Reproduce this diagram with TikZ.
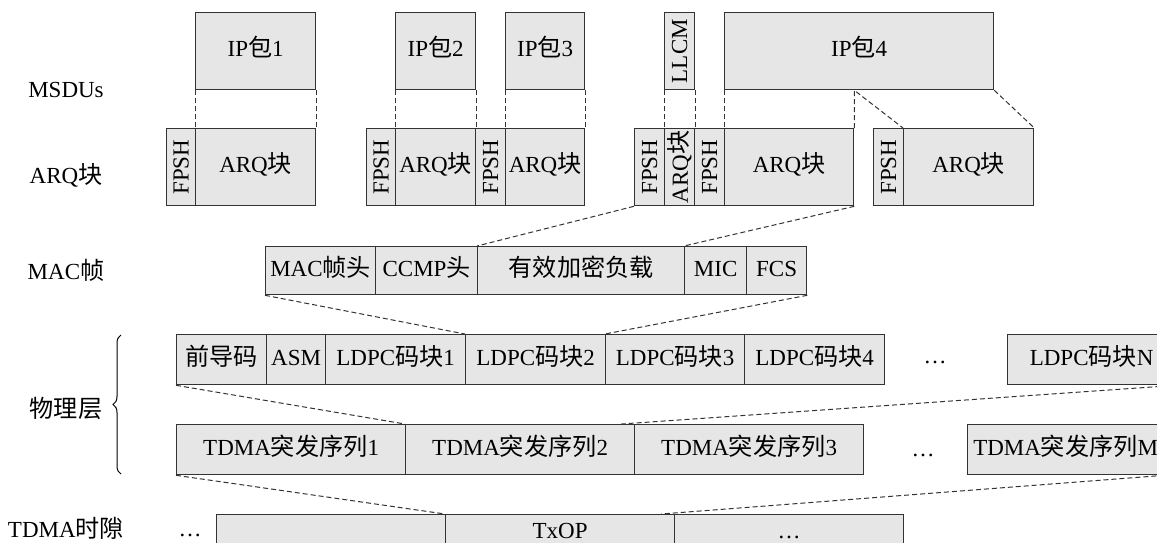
\documentclass[tikz,border=0pt]{standalone}
\usepackage{fontspec}
\setmainfont{Liberation Serif}
\newfontfamily\cjkfont[Scale=1.05]{Noto Sans CJK SC}
\newcommand{\zh}[1]{{\cjkfont #1}}
\usepackage{graphicx}
\usetikzlibrary{decorations.pathreplacing}
\definecolor{cellgray}{HTML}{E6E6E6}
\definecolor{edge}{HTML}{333333}
\tikzset{
  box/.style={draw=edge, line width=1.3pt, fill=cellgray, inner sep=0pt, anchor=north west, font=\fontsize{23}{27}\selectfont},
  cell/.style={box, text height=16pt, text depth=5pt},
  vcell/.style={box},
  rowlabel/.style={font=\fontsize{23}{27}\selectfont},
  guide/.style={draw=edge, line width=1pt, dash pattern=on 5pt off 3pt}
}

\begin{document}
\begin{tikzpicture}[x=1pt, y=-1pt]
  \useasboundingbox (0,0) rectangle (1157,542);
  \clip (0,0) rectangle (1157,542);

  \node[rowlabel] (lmsdu) at (66,90) {MSDUs};
  \node[rowlabel] (larq) at (66,175) {ARQ\zh{块}};
  \node[rowlabel] (lmac) at (66,270) {MAC\zh{帧}};
  \node[rowlabel] (lphy) at (66,408) {\zh{物理层}};
  \node[rowlabel] (lslot) at (66,528) {TDMA\zh{时隙}};
  \draw[decorate, decoration={brace, amplitude=8pt}, line width=1pt] (121,474) -- (121,335);

  % MSDUs
  \node[cell, minimum width=120, minimum height=77] (ip1) at (195,12) {IP\zh{包}1};
  \node[cell, minimum width=80, minimum height=77] (ip2) at (395,12) {IP\zh{包}2};
  \node[cell, minimum width=79, minimum height=77] (ip3) at (505,12) {IP\zh{包}3};
  \node[vcell, minimum width=30, minimum height=77] (llcm) at (664,12) {\rotatebox{90}{LLCM}};
  \node[cell, minimum width=269, minimum height=77] (ip4) at (724,12) {IP\zh{包}4};

  % ARQ blocks
  \node[vcell, minimum width=29, minimum height=77] (fp1) at (166,128) {\rotatebox{90}{FPSH}};
  \node[cell, minimum width=120, minimum height=77] (arq1) at (195,128) {ARQ\zh{块}};
  \node[vcell, minimum width=29, minimum height=77] (fp2) at (366,128) {\rotatebox{90}{FPSH}};
  \node[cell, minimum width=80, minimum height=77] (arq2) at (395,128) {ARQ\zh{块}};
  \node[vcell, minimum width=30, minimum height=77] (fp3) at (475,128) {\rotatebox{90}{FPSH}};
  \node[cell, minimum width=79, minimum height=77] (arq3) at (505,128) {ARQ\zh{块}};
  \node[vcell, minimum width=30, minimum height=77] (fp4) at (634,128) {\rotatebox{90}{FPSH}};
  \node[vcell, minimum width=30, minimum height=77] (arqs) at (664,128) {\rotatebox{90}{ARQ\zh{块}}};
  \node[vcell, minimum width=30, minimum height=77] (fp5) at (694,128) {\rotatebox{90}{FPSH}};
  \node[cell, minimum width=129, minimum height=77] (arq4) at (724,128) {ARQ\zh{块}};
  \node[vcell, minimum width=30, minimum height=77] (fp6) at (873,128) {\rotatebox{90}{FPSH}};
  \node[cell, minimum width=130, minimum height=77] (arq5) at (903,128) {ARQ\zh{块}};

  % MAC frame
  \node[cell, minimum width=110, minimum height=48] (mh) at (265,246) {MAC\zh{帧头}};
  \node[cell, minimum width=102, minimum height=48] (ccmp) at (375,246) {CCMP\zh{头}};
  \node[cell, minimum width=207, minimum height=48] (pay) at (477,246) {\zh{有效加密负载}};
  \node[cell, minimum width=62, minimum height=48] (mic) at (684,246) {MIC};
  \node[cell, minimum width=60, minimum height=48] (fcs) at (746,246) {FCS};

  % PHY code blocks
  \node[cell, minimum width=90, minimum height=50] (pre) at (176,334) {\zh{前导码}};
  \node[cell, minimum width=59, minimum height=50] (asm) at (266,334) {ASM};
  \node[cell, minimum width=140, minimum height=50] (l1) at (325,334) {LDPC\zh{码块}1};
  \node[cell, minimum width=140, minimum height=50] (l2) at (465,334) {LDPC\zh{码块}2};
  \node[cell, minimum width=139, minimum height=50] (l3) at (605,334) {LDPC\zh{码块}3};
  \node[cell, minimum width=140, minimum height=50] (l4) at (744,334) {LDPC\zh{码块}4};
  \node[rowlabel] (ldots) at (935,362) {…};
  \node[cell, minimum width=168, minimum height=50] (ln) at (1007,334) {LDPC\zh{码块}N};

  % TDMA bursts
  \node[cell, minimum width=229, minimum height=50] (t1) at (176,424) {TDMA\zh{突发序列}1};
  \node[cell, minimum width=229, minimum height=50] (t2) at (405,424) {TDMA\zh{突发序列}2};
  \node[cell, minimum width=229, minimum height=50] (t3) at (634,424) {TDMA\zh{突发序列}3};
  \node[rowlabel] (tdots) at (923,455) {…};
  \node[cell, minimum width=196, minimum height=50] (tm) at (967,424) {TDMA\zh{突发序列}M};

  % TDMA slots
  \node[rowlabel] (sdots) at (190,535) {…};
  \node[cell, minimum width=229, minimum height=36] (s0) at (216,514) {};
  \node[cell, minimum width=229, minimum height=36] (txop) at (445,514) {TxOP};
  \node[cell, minimum width=229, minimum height=36] (s2) at (674,514) {…};

  \draw[guide] (ip1.south west) -- (arq1.north west);
  \draw[guide] (ip1.south east) -- (arq1.north east);
  \draw[guide] (ip2.south west) -- (arq2.north west);
  \draw[guide] (ip2.south east) -- (arq2.north east);
  \draw[guide] (ip3.south west) -- (arq3.north west);
  \draw[guide] (ip3.south east) -- (arq3.north east);
  \draw[guide] (llcm.south west) -- (arqs.north west);
  \draw[guide] (llcm.south east) -- (arqs.north east);
  \draw[guide] (ip4.south west) -- (arq4.north west);
  \draw[guide] (arq4.north east) -- (arq4.north east |- ip4.south) -- (arq5.north west);
  \draw[guide] (ip4.south east) -- (arq5.north east);
  \draw[guide] (fp4.south west) -- (pay.north west);
  \draw[guide] (arq4.south east) -- (mic.north west);
  \draw[guide] (mh.south west) -- (l2.north west);
  \draw[guide] (fcs.south east) -- (l3.north west);
  \draw[guide] (pre.south west) -- (t2.north west);
  \draw[guide] (ln.south east) -- ([xshift=-14pt]t2.north east);
  \draw[guide] (t1.south west) -- (txop.north west);
  \draw[guide] (tm.south east) -- ([xshift=-14pt]txop.north east);
\end{tikzpicture}
\end{document}
